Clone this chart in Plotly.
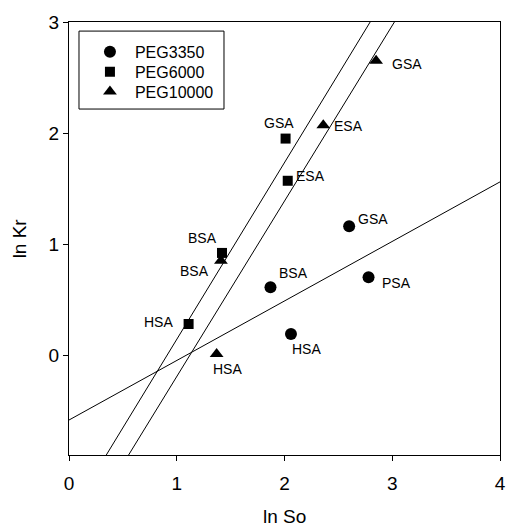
import plotly.graph_objects as go

# Data
labels_3350 = ["GSA", "BSA", "PSA", "HSA"]
x_3350 = [2.60, 1.87, 2.78, 2.06]
y_3350 = [1.16, 0.61, 0.70, 0.19]

labels_6000 = ["GSA", "ESA", "BSA", "HSA"]
x_6000 = [2.01, 2.03, 1.42, 1.11]
y_6000 = [1.95, 1.57, 0.92, 0.28]

labels_10000 = ["GSA", "ESA", "BSA", "HSA"]
x_10000 = [2.85, 2.36, 1.41, 1.37]
y_10000 = [2.65, 2.07, 0.85, 0.01]

line1_x = [0.0, 4.0]
line1_y = [-0.585, 1.56]
line2_x = [0.346, 2.795]
line2_y = [-0.9, 3.0]
line3_x = [0.553, 3.02]
line3_y = [-0.9, 3.0]

x_ticks = [0, 1, 2, 3, 4]
y_ticks = [0, 1, 2, 3]

# label pixel offsets (dx, dy-up)
off_3350 = [(24, 7), (23, 14), (28, -6), (16, -15)]
off_6000 = [(-7, 16), (23, 5), (-20, 15), (-30, 2)]
off_10000 = [(31, -3), (25, -1), (-26, -10), (11, -15)]

FONT = "Liberation Sans, Arial, sans-serif"

fig = go.Figure()
for lx, ly in [(line1_x, line1_y), (line2_x, line2_y), (line3_x, line3_y)]:
    fig.add_trace(go.Scatter(x=lx, y=ly, mode="lines", line=dict(color="black", width=1),
                             showlegend=False, hoverinfo="skip"))

fig.add_trace(go.Scatter(x=x_3350, y=y_3350, mode="markers", name="PEG3350", legend="legend",
                         marker=dict(symbol="circle", size=12, color="black")))
fig.add_trace(go.Scatter(x=x_6000, y=y_6000, mode="markers", name="PEG6000", legend="legend2",
                         marker=dict(symbol="square", size=10, color="black")))
fig.add_trace(go.Scatter(x=x_10000, y=y_10000, mode="markers", name="PEG10000", legend="legend3",
                         marker=dict(symbol="triangle-up", size=12, color="black")))

annotations = []
for xs, ys, labs, offs in [(x_3350, y_3350, labels_3350, off_3350),
                           (x_6000, y_6000, labels_6000, off_6000),
                           (x_10000, y_10000, labels_10000, off_10000)]:
    for xv, yv, lab, (dx, dy) in zip(xs, ys, labs, offs):
        annotations.append(dict(x=xv, y=yv, text=lab, showarrow=False,
                                xshift=dx, yshift=dy,
                                font=dict(family=FONT, size=14, color="black")))

annotations.append(dict(x=0.5, y=-0.141, xref="paper", yref="paper", text="ln So",
                        showarrow=False, yanchor="middle",
                        font=dict(family=FONT, size=19, color="black")))
annotations.append(dict(x=-0.114, y=0.5, xref="paper", yref="paper", text="ln Kr",
                        showarrow=False, textangle=-90, xanchor="center",
                        font=dict(family=FONT, size=19, color="black")))


def leg(yc):
    return dict(x=0.037, y=yc, xanchor="left", yanchor="middle",
                borderwidth=0, bgcolor="rgba(0,0,0,0)",
                font=dict(family=FONT, size=16, color="black"), itemwidth=40)


fig.update_layout(
    width=507, height=526,
    margin=dict(l=69, r=7, t=22, b=71),
    plot_bgcolor="white", paper_bgcolor="white",
    font=dict(family=FONT, color="black"),
    annotations=annotations,
    shapes=[dict(type="rect", xref="paper", yref="paper", x0=0.0232, x1=0.3596,
                 y0=0.799, y1=0.979, line=dict(color="black", width=1))],
    legend=leg(0.931), legend2=leg(0.885), legend3=leg(0.839),
    xaxis=dict(range=[0, 4], tickvals=x_ticks, showgrid=False, zeroline=False,
               showline=True, linecolor="black", linewidth=1, mirror=True,
               ticks="outside", ticklen=5, tickcolor="black", automargin=False,
               ticklabelstandoff=6,
               tickfont=dict(family=FONT, size=19)),
    yaxis=dict(range=[-0.9, 3], tickvals=y_ticks, showgrid=False, zeroline=False,
               showline=True, linecolor="black", linewidth=1, mirror=True,
               ticks="outside", ticklen=5, tickcolor="black", automargin=False,
               tickfont=dict(family=FONT, size=19)),
)

fig.write_html("out.html", config={"displayModeBar": False},
               post_script="document.body.style.margin='0';document.body.style.overflow='hidden';")
